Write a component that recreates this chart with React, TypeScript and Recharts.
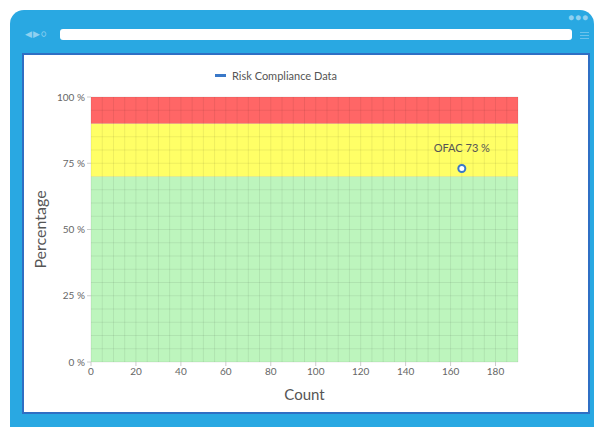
import {
  ComposedChart,
  Legend,
  LabelList,
  ReferenceArea,
  ReferenceLine,
  Scatter,
  XAxis,
  YAxis,
} from "recharts";

// compliance point(s)
const pointNames = ["OFAC"];
const pointCounts = [165];
const pointPercents = [73];

// risk bands (percent)
const bandFrom = [0, 70, 90];
const bandTo = [70, 90, 100];
const bandColors = ["#bdf5bd", "#ffff66", "#ff6666"];

const xTicks = [0, 20, 40, 60, 80, 100, 120, 140, 160, 180];
const yTicks = [0, 25, 50, 75, 100];

const steps = (max: number, step: number) => {
  const out: number[] = [];
  for (let v = 0; v <= max; v += step) out.push(v);
  return out;
};
const gridX = steps(190, 5);
const gridY = steps(100, 5);

const data = pointNames.map((name, i) => ({
  name,
  count: pointCounts[i],
  pct: pointPercents[i],
  label: `${name} ${pointPercents[i]} %`,
}));

const FONT = "Lato, 'Open Sans', sans-serif";
const BLUE = "#29a8e2";
const GRID = "rgba(0,0,0,0.07)";

function LegendContent() {
  return (
    <div
      style={{
        display: "flex",
        alignItems: "center",
        gap: 6,
        fontFamily: FONT,
        fontSize: 11,
        color: "#555",
        marginLeft: -6,
        justifyContent: "center",
      }}
    >
      <span style={{ width: 11, height: 3, background: "#3a78c8", display: "inline-block" }} />
      Risk Compliance Data
    </div>
  );
}

function PointLabel(props: any) {
  const { x, y, width, value } = props;
  return (
    <text x={x + width / 2} y={y - 12} textAnchor="middle" fill="#555" fontSize={11} fontFamily={FONT}>
      {value}
    </text>
  );
}

export default function App() {
  return (
    <div
      style={{
        position: "fixed",
        left: 0,
        top: 0,
        width: 597,
        height: 427,
        background: "#fff",
        overflow: "hidden",
        fontFamily: FONT,
      }}
    >
      {/* browser frame */}
      <div
        style={{
          position: "absolute",
          left: 10,
          top: 10,
          width: 584,
          height: 430,
          background: BLUE,
          borderRadius: 14,
        }}
      />
      <div style={{ position: "absolute", left: 60, top: 29, width: 512, height: 11, background: "#fff", borderRadius: 3 }} />
      <div style={{ position: "absolute", left: 25, top: 28, fontSize: 9, color: "#8fd0f0", letterSpacing: 1 }}>◀▶○</div>
      <div style={{ position: "absolute", left: 568, top: 11, fontSize: 10, color: "#8fd0f0", letterSpacing: 1 }}>●●●</div>
      <div style={{ position: "absolute", left: 580, top: 32, width: 9, height: 1, background: "#6cc2ec", boxShadow: "0 3px 0 #6cc2ec, 0 6px 0 #6cc2ec" }} />
      <div
        style={{
          position: "absolute",
          left: 22,
          top: 53,
          width: 564,
          height: 357,
          background: "#fff",
          border: "2px solid #2f6fc4",
        }}
      >
        <ComposedChart
          width={564}
          height={357}
          data={data}
          margin={{ top: 20, right: 70, bottom: 10, left: 16 }}
        >
          <Legend verticalAlign="top" height={22} wrapperStyle={{ top: 14 }} content={<LegendContent />} />
          {bandFrom.map((from, i) => (
            <ReferenceArea
              key={`b${i}`}
              x1={0}
              x2={190}
              y1={from}
              y2={bandTo[i]}
              fill={bandColors[i]}
              fillOpacity={1}
              stroke="none"
              ifOverflow="visible"
            />
          ))}
          {gridX.map((v) => (
            <ReferenceLine key={`gx${v}`} x={v} stroke={GRID} ifOverflow="visible" />
          ))}
          {gridY.map((v) => (
            <ReferenceLine key={`gy${v}`} y={v} stroke={GRID} ifOverflow="visible" />
          ))}
          <XAxis
            type="number"
            dataKey="count"
            domain={[0, 190]}
            ticks={xTicks}
            interval={0}
            height={40}
            tick={{ fill: "#666", fontSize: 10, fontFamily: FONT }}
            tickLine={{ stroke: "#ccc" }}
            tickSize={4}
            axisLine={false}
            label={{ value: "Count", position: "insideBottom", offset: 2, fill: "#555", fontSize: 15, fontFamily: FONT }}
          />
          <YAxis
            type="number"
            dataKey="pct"
            domain={[0, 100]}
            ticks={yTicks}
            interval={0}
            width={51}
            tickFormatter={(v: number) => `${v} %`}
            tick={{ fill: "#666", fontSize: 10, fontFamily: FONT }}
            tickLine={{ stroke: "#ccc" }}
            tickSize={4}
            axisLine={false}
            label={{ value: "Percentage", angle: -90, position: "insideLeft", offset: 0, fill: "#555", fontSize: 16, fontFamily: FONT, style: { textAnchor: "middle" } }}
          />
          <Scatter
            dataKey="pct"
            isAnimationActive={false}
            fill="#fff"
            stroke="#3a78c8"
            shape={(p: any) => (
              <circle cx={p.cx} cy={p.cy} r={3.5} fill="#fff" stroke="#3a78c8" strokeWidth={2} />
            )}
          >
            <LabelList dataKey="label" content={<PointLabel />} />
          </Scatter>
        </ComposedChart>
      </div>
    </div>
  );
}
